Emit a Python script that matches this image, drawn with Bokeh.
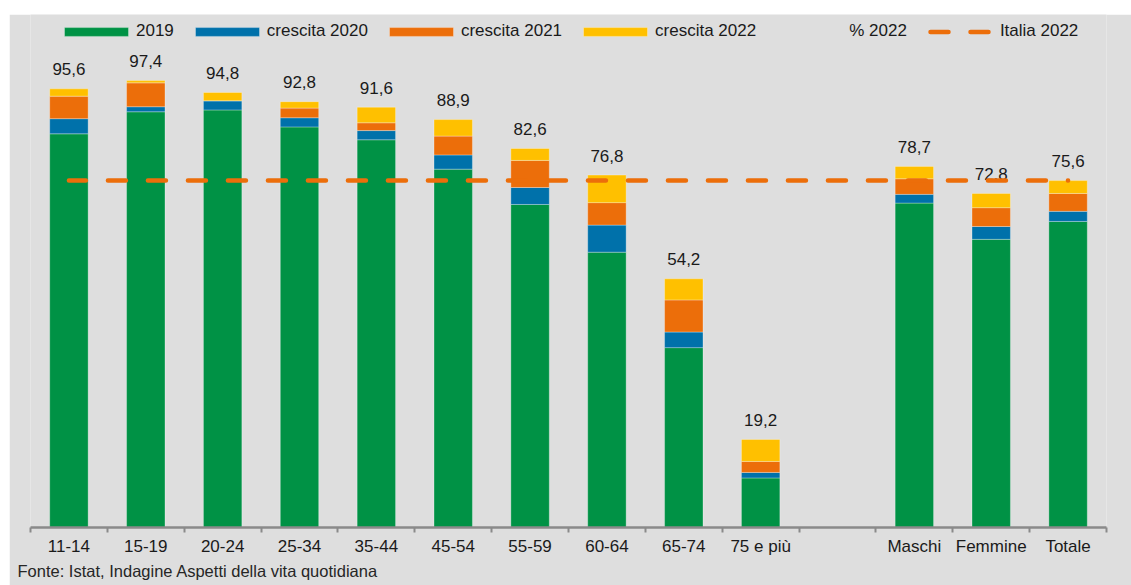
from bokeh.plotting import figure
from bokeh.models import (Range1d, LinearAxis, FixedTicker, ColumnDataSource,
                          Legend, LegendItem, Title)
from bokeh.core.properties import value
from bokeh.embed import file_html
from bokeh.resources import INLINE

# ---------------- data ----------------
slots = ["11-14", "15-19", "20-24", "25-34", "35-44", "45-54", "55-59", "60-64",
         "65-74", "75 e più", "", "Maschi", "Femmine", "Totale"]
categories = ["11-14", "15-19", "20-24", "25-34", "35-44", "45-54", "55-59", "60-64",
              "65-74", "75 e più", "Maschi", "Femmine", "Totale"]
v2019 = [85.8, 90.6, 91.0, 87.3, 84.5, 78.1, 70.4, 60.0, 39.2, 10.8, 70.7, 62.8, 66.7]
c2020 = [3.3, 1.1, 2.0, 2.0, 2.0, 3.1, 3.7, 5.9, 3.4, 1.2, 1.9, 2.8, 2.2]
c2021 = [4.9, 5.2, 0.0, 2.1, 1.7, 4.1, 5.9, 4.9, 7.0, 2.4, 3.4, 4.1, 3.9]
c2022 = [1.6, 0.5, 1.8, 1.4, 3.4, 3.6, 2.6, 6.0, 4.6, 4.8, 2.7, 3.1, 2.8]
pct2022 = [95.6, 97.4, 94.8, 92.8, 91.6, 88.9, 82.6, 76.8, 54.2, 19.2, 78.7, 72.8, 75.6]
italia_2022 = 75.6
series = ["2019", "crescita 2020", "crescita 2021", "crescita 2022"]
colors = ["#009245", "#0071AA", "#EC6E0A", "#FFC000"]
line_color = "#EC6E0A"
source_note = "Fonte: Istat, Indagine Aspetti della vita quotidiana"

BG = "#dedede"
FONT = "Liberation Sans"
TXT = "#1a1a1a"

# slot centre of each category on the numeric x scale (one unit per slot)
xpos = [slots.index(c) + 0.5 for c in categories]

src = ColumnDataSource(dict(
    x=xpos, cat=categories,
    **{series[0]: v2019, series[1]: c2020, series[2]: c2021, series[3]: c2022},
    pct=pct2022,
    lab=[f"{v:.1f}".replace(".", ",") for v in pct2022],
))

p = figure(width=1122, height=571, x_range=Range1d(0, len(slots)),
           y_range=Range1d(0, 111.8), x_axis_type=None, y_axis_type=None,
           output_backend="svg", toolbar_location=None,
           min_border_left=21, min_border_right=25, min_border_top=0, min_border_bottom=58,
           background_fill_color=BG, border_fill_color=BG, outline_line_color=None)
p.styles = {"margin-left": "9px", "margin-top": "14px"}

bars = p.vbar_stack(series, x="x", width=0.5, color=colors, source=src,
                    line_color="white", line_alpha=0.3, line_width=1)

p.text(x="x", y="pct", text="lab", source=src, text_align="center",
       text_baseline="middle", y_offset=-19.5, text_font=value(FONT),
       text_font_size="17px", text_color=TXT)

p.segment(x0=[xpos[0]], y0=[italia_2022], x1=[xpos[-1]], y1=[italia_2022],
          line_color=line_color, line_width=4.5, line_dash="18 22", line_dash_offset=1,
          line_cap="round")

# legend-only renderers (a one-point line draws nothing in the plot)
pct_dummy = p.vbar(x=[xpos[0]], top=[pct2022[0]], width=0.5, fill_alpha=0, line_alpha=0)
ita_dummy = p.line(x=[xpos[0]], y=[italia_2022], line_color=line_color, line_width=4.5,
                   line_dash="18 22", line_dash_offset=30, line_cap="round")

items = [LegendItem(label=s, renderers=[r]) for s, r in zip(series, bars)]
items.append(LegendItem(label="% 2022", renderers=[pct_dummy]))
items.append(LegendItem(label="Italia 2022", renderers=[ita_dummy]))
legend = Legend(items=items, orientation="horizontal", location=(26, 486),
                padding=0, margin=0, spacing=13, glyph_width=80, glyph_height=11,
                label_standoff=0, label_text_font=FONT, label_text_font_size="17px",
                label_text_color=TXT, border_line_color=None, background_fill_alpha=0)
p.add_layout(legend)

# x axis: labels at slot centres, ticks at slot boundaries
ticks = [i + 0.5 for i, c in enumerate(slots) if c]
bounds = [float(i) for i in range(len(slots) + 1)]
xaxis = LinearAxis(ticker=FixedTicker(ticks=ticks, minor_ticks=bounds),
                   major_label_overrides={i + 0.5: c for i, c in enumerate(slots) if c},
                   axis_line_color="#8a8a8a", axis_line_width=2.5,
                   major_tick_line_color=None, major_tick_out=0, major_tick_in=0,
                   minor_tick_line_color="#8a8a8a", minor_tick_line_width=2,
                   minor_tick_out=5, minor_tick_in=0,
                   major_label_standoff=4, major_label_text_font=FONT,
                   major_label_text_font_size="17px", major_label_text_color=TXT)
p.add_layout(xaxis, "below")

p.add_layout(Title(text=source_note, align="left", offset=-13, standoff=2,
                   text_font=FONT, text_font_size="16.5px", text_font_style="normal",
                   text_color="#262626"), "below")

open("out.html", "w").write(file_html(p, INLINE))
